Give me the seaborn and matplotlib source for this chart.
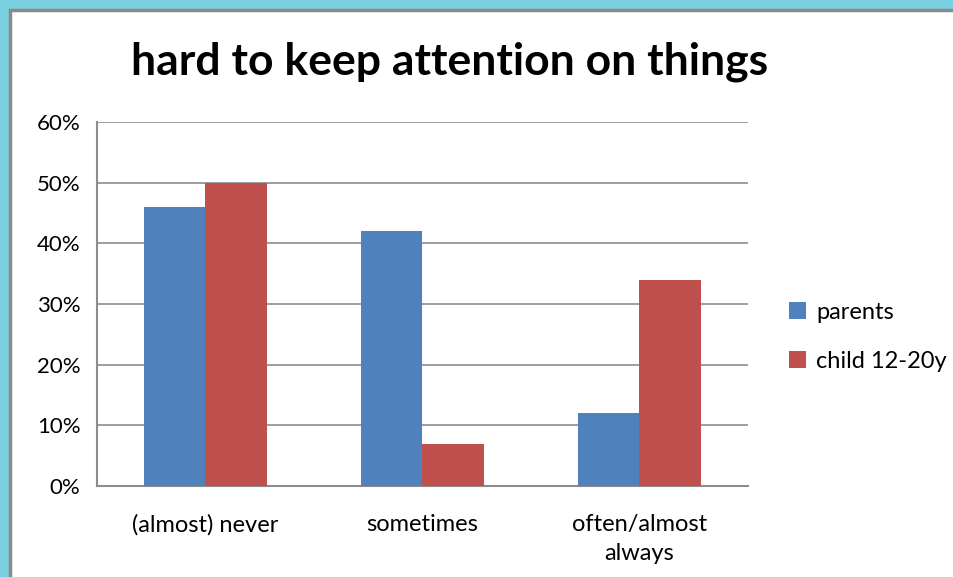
import pandas as pd
import seaborn as sns
import matplotlib.pyplot as plt
from matplotlib.patches import Rectangle

# data
categories = ["(almost) never", "sometimes", "often/almost\nalways"]
groups = ["parents", "child 12-20y"]
parents = [46, 42, 12]
child = [50, 7, 34]

df = pd.DataFrame({
    "answer": categories * 2,
    "who": [groups[0]] * 3 + [groups[1]] * 3,
    "pct": parents + child,
})

sns.set_style("white")
plt.rcParams["font.family"] = ["Lato", "DejaVu Sans"]
plt.rcParams["text.color"] = "black"
plt.rcParams["xtick.color"] = "black"
plt.rcParams["ytick.color"] = "black"

fig = plt.figure(figsize=(9.54, 5.77), dpi=100)
fig.patch.set_facecolor("#7acfe0")
# white slide area with grey edge
fig.patches.append(Rectangle((10 / 954, -0.05), 1.1, 1.05 - 10 / 577,
                             transform=fig.transFigure, facecolor="white",
                             edgecolor="#8a8a8a", linewidth=2.5, zorder=-10))

ax = fig.add_axes([97 / 954, 1 - 486 / 577, (748 - 97) / 954, (486 - 122) / 577])
ax.set_facecolor("none")

sns.barplot(data=df, x="answer", y="pct", hue="who", order=categories,
            hue_order=groups, palette=["#4f81bd", "#c0504d"], width=0.57,
            saturation=1, linewidth=0, ax=ax, zorder=3)

ax.set_ylim(0, 60)
ax.set_xlim(-0.5, 2.5)
ax.set_yticks(range(0, 61, 10))
ax.set_yticklabels([f"{v}%" for v in range(0, 61, 10)])
ax.yaxis.grid(True, color="#8c8c8c", linewidth=1.2, zorder=0)
ax.set_axisbelow(True)
ax.set_xlabel("")
ax.set_ylabel("")

for s in ["top", "right"]:
    ax.spines[s].set_visible(False)
for s in ["left", "bottom"]:
    ax.spines[s].set_color("#8c8c8c")
    ax.spines[s].set_linewidth(1.5)

ax.tick_params(axis="y", length=6, color="#8c8c8c", width=1.2, labelsize=16,
               pad=6, labelcolor="black")
ax.tick_params(axis="x", which="major", length=0, labelsize=17, pad=20,
               labelcolor="black")
ax.set_xticks([-0.5, 0.5, 1.5, 2.5], minor=True)
ax.tick_params(axis="x", which="minor", length=7, color="#8c8c8c", width=1.2)
for lab in ax.get_xticklabels():
    lab.set_linespacing(1.5)

ax.set_title("hard to keep attention on things", fontsize=32, fontweight="bold",
             pad=34, color="black", x=0.542)

ax.legend(loc="center left", bbox_to_anchor=(1.03, 0.41), frameon=False,
          fontsize=17, handlelength=0.75, handleheight=0.75, labelspacing=1.2,
          handletextpad=0.4)

fig.savefig("out.png", dpi=100, facecolor=fig.get_facecolor())
